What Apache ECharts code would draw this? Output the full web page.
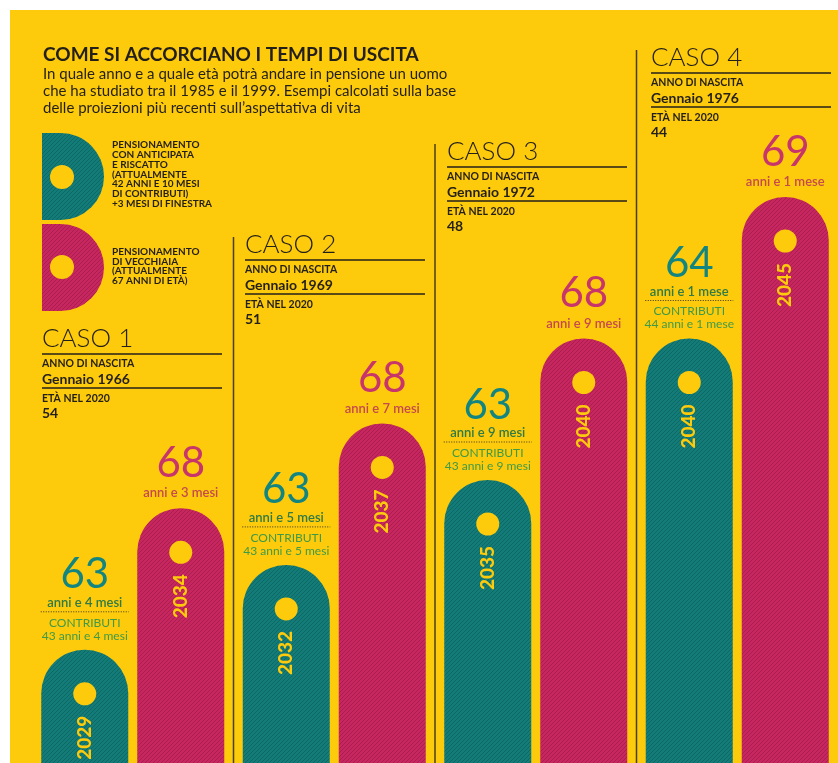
<!DOCTYPE html>
<html>
<head>
<meta charset="utf-8">
<script src="https://cdn.jsdelivr.net/npm/echarts@6/dist/echarts.min.js"></script>
<style>
html,body{margin:0;padding:0;background:#fff;}
#main{width:838px;height:763px;}
</style>
</head>
<body>
<div id="main"></div>
<script>
// dati
var cases = ['CASO 1', 'CASO 2', 'CASO 3', 'CASO 4'];
var birth = ['Gennaio 1966', 'Gennaio 1969', 'Gennaio 1972', 'Gennaio 1976'];
var ageIn2020 = ['54', '51', '48', '44'];
var anticipataYear = [2029, 2032, 2035, 2040];
var anticipataAge = [63, 63, 63, 64];
var anticipataMonths = ['anni e 4 mesi', 'anni e 5 mesi', 'anni e 9 mesi', 'anni e 1 mese'];
var contributi = ['43 anni e 4 mesi', '43 anni e 5 mesi', '43 anni e 9 mesi', '44 anni e 1 mese'];
var vecchiaiaYear = [2034, 2037, 2040, 2045];
var vecchiaiaAge = [68, 68, 68, 69];
var vecchiaiaMonths = ['anni e 3 mesi', 'anni e 7 mesi', 'anni e 9 mesi', 'anni e 1 mese'];
var yMin = 2025, yMax = 2045;

var YELLOW = '#fdca0c';
var TEAL = '#137c78';
var MAGENTA = '#c8265f';
var INK = '#231f1a';
var FONT = 'Lato, "Open Sans", sans-serif';

function stripes(base, line) {
	var s = 4;
	var c = document.createElement('canvas');
	c.width = s; c.height = s;
	var g = c.getContext('2d');
	g.fillStyle = base; g.fillRect(0, 0, s, s);
	g.strokeStyle = line; g.lineWidth = 0.9;
	g.beginPath();
	g.moveTo(0, s); g.lineTo(s, 0);
	g.moveTo(-s, s); g.lineTo(s, -s);
	g.moveTo(0, 2 * s); g.lineTo(2 * s, 0);
	g.stroke();
	return c;
}
var tealFill = { image: stripes(TEAL, '#0c6461'), repeat: 'repeat' };
var magentaFill = { image: stripes(MAGENTA, '#a51d4e'), repeat: 'repeat' };

function txt(x, y, text, font, fill, extra) {
	var o = { type: 'text', style: { x: x, y: y, text: text, font: font, fill: fill,
		align: 'left', verticalAlign: 'middle', textAlign: 'left', textVerticalAlign: 'middle' } };
	if (extra) for (var k in extra) { o.style[k] = extra[k]; }
	return o;
}

function barItem(kind) {
	return function (params, api) {
		var i = api.value(0), year = api.value(1);
		var top = api.coord([i, year]);
		var base = api.coord([i, yMin]);
		var cx = top[0] + (kind === 0 ? -48 : 48);
		var y = top[1], r = 43.5;
		var ch = [
			{ type: 'rect', shape: { x: cx - r, y: y, width: 2 * r, height: base[1] - y, r: [r, r, 0, 0] },
				style: { fill: kind === 0 ? tealFill : magentaFill } },
			{ type: 'circle', shape: { cx: cx, cy: y + 44, r: 11.5 }, style: { fill: YELLOW } },
			{ type: 'text', x: cx, y: y + 88, rotation: Math.PI / 2,
				style: { x: 0, y: 0, text: String(year), fill: YELLOW, font: '900 19px ' + FONT,
					align: 'center', verticalAlign: 'middle', textAlign: 'center', textVerticalAlign: 'middle' } }
		];
		var c = { align: 'center', textAlign: 'center' };
		if (kind === 0) {
			ch.push(txt(cx, y - 75, String(anticipataAge[i]), '400 42px ' + FONT, '#138580', c));
			ch.push(txt(cx, y - 47, anticipataMonths[i], '600 13px ' + FONT, '#2f7a45', c));
			ch.push({ type: 'line', shape: { x1: cx - 44, y1: y - 38, x2: cx + 44, y2: y - 38 },
				style: { stroke: '#3b3520', lineWidth: 1, lineDash: [1, 1.5] } });
			ch.push(txt(cx, y - 27, 'CONTRIBUTI', '12px ' + FONT, '#3f9a48', c));
			ch.push(txt(cx, y - 14, contributi[i], '12px ' + FONT, '#3f9a48', c));
		} else {
			ch.push(txt(cx, y - 45, String(vecchiaiaAge[i]), '400 42px ' + FONT, '#c8356b', c));
			ch.push(txt(cx, y - 15, vecchiaiaMonths[i], '600 13px ' + FONT, '#c44a4e', c));
		}
		return { type: 'group', children: ch };
	};
}

// intestazioni dei casi
var headLineY = [354, 260, 167, 73];
var headX = [42, 245, 447, 651];
var graphics = [
	{ type: 'rect', z: -10, shape: { x: 10, y: 10, width: 828, height: 753 }, style: { fill: YELLOW } },
	txt(43, 55, 'COME SI ACCORCIANO I TEMPI DI USCITA', 'bold 19px ' + FONT, INK),
	{ type: 'text', style: { x: 43, y: 66, text: 'In quale anno e a quale età potrà andare in pensione un uomo\nche ha studiato tra il 1985 e il 1999. Esempi calcolati sulla base\ndelle proiezioni più recenti sull\u2019aspettativa di vita',
		font: '15px ' + FONT, fill: INK, lineHeight: 16.8, verticalAlign: 'top', textVerticalAlign: 'top' } },
	{ type: 'rect', shape: { x: 42, y: 133, width: 62, height: 87, r: [0, 43.5, 43.5, 0] }, style: { fill: tealFill } },
	{ type: 'circle', shape: { cx: 62, cy: 177, r: 12 }, style: { fill: YELLOW } },
	{ type: 'rect', shape: { x: 42, y: 224, width: 62, height: 87, r: [0, 43.5, 43.5, 0] }, style: { fill: magentaFill } },
	{ type: 'circle', shape: { cx: 62, cy: 267, r: 12 }, style: { fill: YELLOW } },
	{ type: 'text', style: { x: 112, y: 140, text: 'PENSIONAMENTO\nCON ANTICIPATA\nE RISCATTO\n(ATTUALMENTE\n42 ANNI E 10 MESI\nDI CONTRIBUTI)\n+3 MESI DI FINESTRA',
		font: 'bold 10px ' + FONT, fill: INK, lineHeight: 9.8, verticalAlign: 'top', textVerticalAlign: 'top' } },
	{ type: 'text', style: { x: 112, y: 247, text: 'PENSIONAMENTO\nDI VECCHIAIA\n(ATTUALMENTE\n67 ANNI DI ETÀ)',
		font: 'bold 10px ' + FONT, fill: INK, lineHeight: 9.6, verticalAlign: 'top', textVerticalAlign: 'top' } }
];
for (var i = 0; i < cases.length; i++) {
	var ly = headLineY[i], lx = headX[i];
	graphics.push(txt(lx, ly - 15, cases[i], '300 26px ' + FONT, INK, { letterSpacing: 1 }));
	graphics.push({ type: 'line', shape: { x1: lx, y1: ly, x2: lx + 180, y2: ly }, style: { stroke: INK, lineWidth: 1.4 } });
	graphics.push(txt(lx, ly + 10, 'ANNO DI NASCITA', 'bold 10.5px ' + FONT, INK));
	graphics.push(txt(lx, ly + 25, birth[i], 'bold 14px ' + FONT, INK));
	graphics.push({ type: 'line', shape: { x1: lx, y1: ly + 34, x2: lx + 180, y2: ly + 34 }, style: { stroke: INK, lineWidth: 1.4 } });
	graphics.push(txt(lx, ly + 45, 'ETÀ NEL 2020', 'bold 10.5px ' + FONT, INK));
	graphics.push(txt(lx, ly + 59, ageIn2020[i], 'bold 14px ' + FONT, INK));
	if (i > 0) {
		var dx = 32 + 806 * i / 4;
		graphics.push({ type: 'line', shape: { x1: dx, y1: ly - 23, x2: dx, y2: 763 }, style: { stroke: '#4a3f22', lineWidth: 1.5 } });
	}
}

var chart = echarts.init(document.getElementById('main'));
chart.setOption({
	animation: false,
	grid: { left: 32, right: 0, top: 197, bottom: 0 },
	xAxis: { type: 'category', data: cases, show: false },
	yAxis: { type: 'value', min: yMin, max: yMax, show: false },
	graphic: graphics,
	series: [
		{ name: 'Anticipata', type: 'custom', clip: false, renderItem: barItem(0),
			data: anticipataYear.map(function (v, i) { return [i, v]; }) },
		{ name: 'Vecchiaia', type: 'custom', clip: false, renderItem: barItem(1),
			data: vecchiaiaYear.map(function (v, i) { return [i, v]; }) }
	]
});
</script>
</body>
</html>
